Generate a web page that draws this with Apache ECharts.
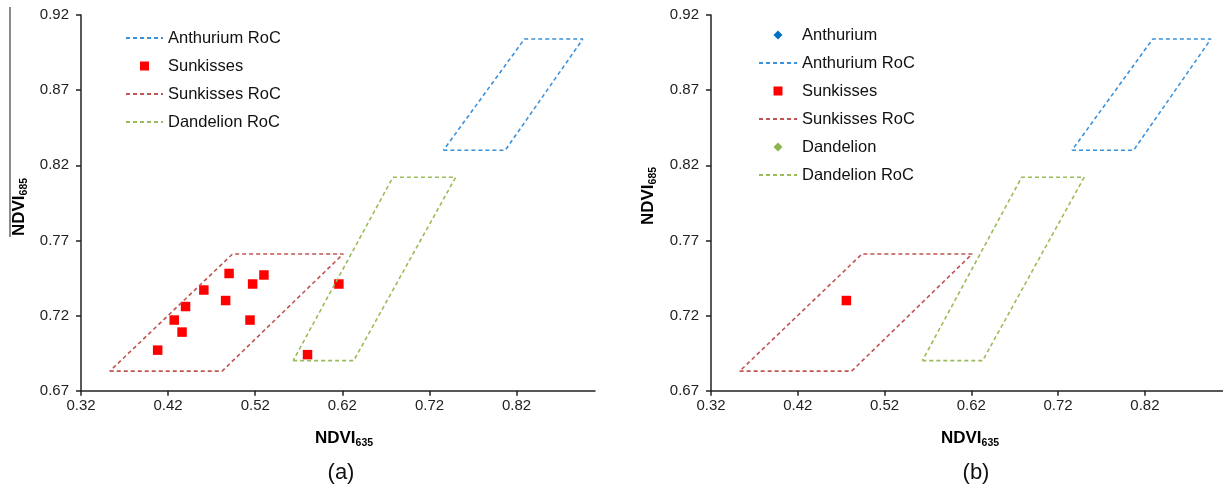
<!DOCTYPE html>
<html>
<head>
<meta charset="utf-8">
<style>
html,body{margin:0;padding:0;background:#fff;}
#chart{width:1223px;height:492px;}
</style>
<script src="https://cdn.jsdelivr.net/npm/echarts@6/dist/echarts.min.js"></script>
</head>
<body>
<div id="chart"></div>
<script>
// Region of confidence (RoC) polygons [NDVI635, NDVI685], closed loops
const anthuriumRoC = [[0.736,0.830],[0.807,0.830],[0.896,0.904],[0.829,0.904],[0.736,0.830]];
const sunkissesRoC = [[0.353,0.683],[0.482,0.683],[0.621,0.761],[0.494,0.761],[0.353,0.683]];
const dandelionRoC = [[0.5635,0.690],[0.633,0.690],[0.750,0.812],[0.678,0.812],[0.5635,0.690]];
// Sunkisses samples, panel (a)
const sunkissesA = [
  [0.490,0.748],[0.530,0.747],[0.517,0.741],[0.616,0.741],[0.461,0.737],
  [0.440,0.726],[0.486,0.730],[0.427,0.717],[0.514,0.717],[0.436,0.709],
  [0.408,0.697],[0.580,0.694]
];
// Panel (b) samples
const sunkissesB = [[0.476,0.730]];
const anthuriumB = [];
const dandelionB = [];
// Axis settings
const xMin = 0.32, xMax = 0.91, xStep = 0.1;
const yMin = 0.67, yMax = 0.92, yStep = 0.05;

const FONT = 'Liberation Sans, Arial, sans-serif';
const C_ANTH_ROC = '#3a91dc', C_SUN_ROC = '#bf5552', C_DAN_ROC = '#9bbb59';
const C_SUN = '#ff0000', C_ANTH = '#0070c0', C_DAN = '#8db44f';
const SQUARE = 'path://M0,0L1,0L1,1L0,1Z';
const DIAMOND = 'path://M1,0L2,1L1,2L0,1Z';

function xAxis(gi){
  return {type:'value', gridIndex:gi, min:xMin, max:xMax, interval:xStep,
    axisLine:{show:true, lineStyle:{color:'#222', width:1.5}},
    axisTick:{show:true, length:5, inside:false, lineStyle:{color:'#222', width:1.5}},
    splitLine:{show:false},
    axisLabel:{color:'#222', fontSize:15, fontFamily:FONT, margin:8, showMaxLabel:false,
      formatter:v=>v.toFixed(2)}};
}
function yAxis(gi){
  return {type:'value', gridIndex:gi, min:yMin, max:yMax, interval:yStep,
    axisLine:{show:true, lineStyle:{color:'#222', width:1.5}},
    axisTick:{show:true, length:5, lineStyle:{color:'#222', width:1.5}},
    splitLine:{show:false},
    axisLabel:{color:'#222', fontSize:15, fontFamily:FONT, margin:12,
      formatter:v=>v.toFixed(2)}};
}
function roc(name, data, color, gi){
  return {name, type:'line', xAxisIndex:gi, yAxisIndex:gi, data, symbol:'none', showSymbol:false,
    lineStyle:{color, width:1.6, type:[4,3]}, itemStyle:{color}, animation:false, silent:true};
}
function pts(name, data, color, symbol, size, gi){
  return {name, type:'scatter', xAxisIndex:gi, yAxisIndex:gi, data, symbol, symbolSize:size,
    itemStyle:{color, opacity:1}, animation:false};
}
const legendText = {fontSize:16.5, fontFamily:FONT, color:'#111', lineHeight:18};
const sub = (t, main)=>'{m|'+main+'}{s|'+t+'}';
const richTitle = {
  m:{fontSize:17, fontWeight:'bold', fontFamily:FONT, color:'#111', lineHeight:22},
  s:{fontSize:10.5, fontWeight:'bold', fontFamily:FONT, color:'#111', lineHeight:22, verticalAlign:'bottom'}
};
const lineItem = n=>({name:n, itemStyle:{opacity:0, color:'rgba(0,0,0,0)', borderWidth:0}});
const ptItem = (n, ic)=>({name:n, icon:ic, itemStyle:{opacity:1}});

const chart = echarts.init(document.getElementById('chart'), null, {renderer:'canvas'});
chart.setOption({
  backgroundColor:'#fff',
  animation:false,
  grid:[
    {left:81, top:15, width:514, height:375.7},
    {left:711, top:15, width:512, height:375.7}
  ],
  xAxis:[xAxis(0), xAxis(1)],
  yAxis:[yAxis(0), yAxis(1)],
  legend:[
    {orient:'vertical', left:120, top:24, itemWidth:37, itemHeight:9, itemGap:10,
     textStyle:legendText, selectedMode:false, symbolKeepAspect:true,
     data:[lineItem('Anthurium RoC'), ptItem('Sunkisses', SQUARE), lineItem('Sunkisses RoC'), lineItem('Dandelion RoC')]},
    {orient:'vertical', left:753, top:21, itemWidth:38, itemHeight:9, itemGap:10,
     textStyle:legendText, selectedMode:false, symbolKeepAspect:true,
     data:[ptItem('Anthurium ', DIAMOND), lineItem('Anthurium RoC '), ptItem('Sunkisses ', SQUARE),
           lineItem('Sunkisses RoC '), ptItem('Dandelion ', DIAMOND), lineItem('Dandelion RoC ')]}
  ],
  series:[
    roc('Anthurium RoC', anthuriumRoC, C_ANTH_ROC, 0),
    pts('Sunkisses', sunkissesA, C_SUN, 'rect', 9.5, 0),
    roc('Sunkisses RoC', sunkissesRoC, C_SUN_ROC, 0),
    roc('Dandelion RoC', dandelionRoC, C_DAN_ROC, 0),
    pts('Anthurium ', anthuriumB, C_ANTH, 'diamond', 8, 1),
    roc('Anthurium RoC ', anthuriumRoC, C_ANTH_ROC, 1),
    pts('Sunkisses ', sunkissesB, C_SUN, 'rect', 9.5, 1),
    roc('Sunkisses RoC ', sunkissesRoC, C_SUN_ROC, 1),
    pts('Dandelion ', dandelionB, C_DAN, 'diamond', 8, 1),
    roc('Dandelion RoC ', dandelionRoC, C_DAN_ROC, 1)
  ],
  graphic:[
    {type:'line', shape:{x1:10, y1:7, x2:10, y2:237}, style:{stroke:'#666', lineWidth:1.5}, silent:true},
    {type:'text', x:344, y:438, style:{text:sub('635','NDVI'), rich:richTitle, align:'center', verticalAlign:'middle'}},
    {type:'text', x:970, y:438, style:{text:sub('635','NDVI'), rich:richTitle, align:'center', verticalAlign:'middle'}},
    {type:'text', x:19, y:207, rotation:Math.PI/2, style:{text:sub('685','NDVI'), rich:richTitle, align:'center', verticalAlign:'middle'}},
    {type:'text', x:648, y:196, rotation:Math.PI/2, style:{text:sub('685','NDVI'), rich:richTitle, align:'center', verticalAlign:'middle'}},
    {type:'text', x:341, y:473, style:{text:'(a)', font:'22px '+FONT, fill:'#111', align:'center', verticalAlign:'middle'}},
    {type:'text', x:976, y:473, style:{text:'(b)', font:'22px '+FONT, fill:'#111', align:'center', verticalAlign:'middle'}}
  ]
});
</script>
</body>
</html>
